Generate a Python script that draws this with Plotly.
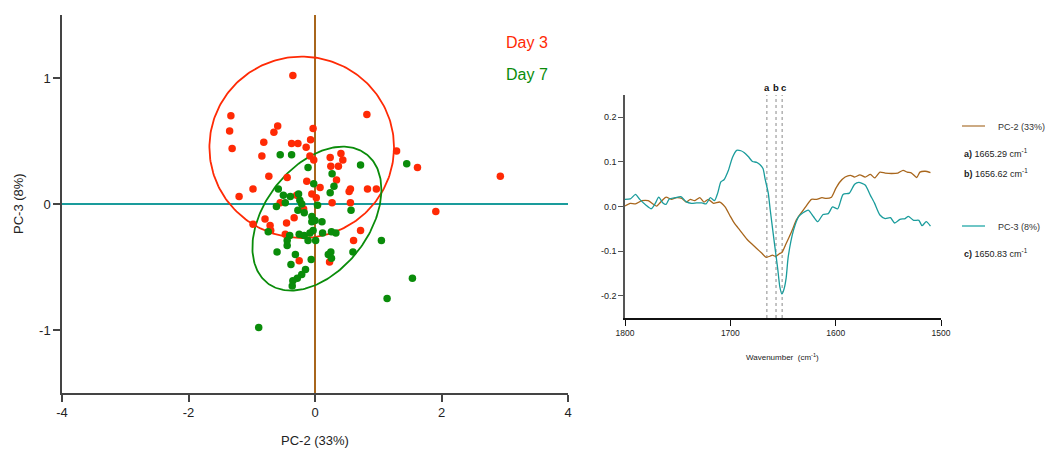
import numpy as np
import plotly.graph_objects as go

W, H = 1046, 452
FONT = "Liberation Sans, Arial, sans-serif"

# ---- PCA scores (PC-2 vs PC-3) ----
day3_pc2 = [-0.35, -1.33, -1.35, -1.31, 0.82, -0.59, -0.65, -0.81, -0.84, -0.37,
            -0.27, -0.14, -0.07, -0.03, -0.08, -0.02, 0.24, 0.41, 0.44, 0.25,
            0.37, 0.34, -0.73, -0.44, -0.98, -1.20, -0.13, 0.08, 0.56, 0.54,
            0.83, 0.97, 1.29, 1.62, -0.05, 0.02, 0.27, 0.56, -0.29, -0.55,
            -0.18, 2.93, 1.91, -0.79, -0.98, -0.71, -0.45, -0.33, -0.70, -0.47,
            0.72, 0.61, -0.25, 0.23]
day3_pc3 = [1.02, 0.70, 0.58, 0.44, 0.71, 0.62, 0.57, 0.49, 0.38, 0.48,
            0.48, 0.45, 0.51, 0.60, 0.38, 0.35, 0.37, 0.40, 0.35, 0.30,
            0.30, 0.19, 0.22, 0.21, 0.12, 0.06, 0.18, 0.13, 0.12, 0.10,
            0.12, 0.12, 0.42, 0.29, 0.08, 0.05, 0.01, 0.01, 0.07, 0.01,
            -0.04, 0.22, -0.06, -0.12, -0.16, -0.17, -0.15, -0.11, -0.21, -0.24,
            -0.21, -0.29, -0.45, -0.46]

day7_pc2 = [-0.55, -0.37, 0.72, 1.45, -0.11, 0.27, -0.02, 0.30, 0.24, -0.58,
            -0.50, -0.39, -0.26, -0.24, -0.47, -0.61, -0.21, 0.04, 0.57, -0.27,
            -0.17, -0.05, -0.05, 0.00, 0.11, -0.74, -0.40, -0.25, -0.17, -0.08,
            -0.03, 0.12, 0.26, 0.33, -0.11, 0.01, 1.05, -0.44, -0.44, -0.60,
            -0.31, -0.38, -0.06, -0.15, -0.21, -0.28, -0.35, -0.36, 0.21, 0.25,
            0.26, 0.60, 1.14, 1.54, -0.89]
day7_pc3 = [0.39, 0.39, 0.31, 0.32, 0.29, 0.24, 0.16, 0.14, 0.09, 0.12,
            0.07, 0.06, 0.08, 0.03, 0.01, -0.02, 0.00, -0.01, -0.05, -0.05,
            -0.07, -0.10, -0.14, -0.13, -0.14, -0.22, -0.25, -0.24, -0.25, -0.23,
            -0.21, -0.23, -0.22, -0.23, -0.29, -0.29, -0.29, -0.29, -0.33, -0.38,
            -0.40, -0.48, -0.44, -0.52, -0.56, -0.59, -0.61, -0.65, -0.40, -0.38,
            -0.43, -0.38, -0.75, -0.59, -0.98]

# confidence ellipses: centre and shape (covariance-like) matrix
day3_ellipse_center = [-0.21, 0.45]
day3_ellipse_shape = [[2.13, 0.0], [0.0, 0.518]]
day7_ellipse_center = [0.03, -0.116]
day7_ellipse_shape = [[1.04, 0.234], [0.234, 0.326]]

score_xticks = [-4, -2, 0, 2, 4]
score_xticklabels = ["-4", "-2", "0", "2", "4"]
score_yticks = [-1, 0, 1]
score_yticklabels = ["-1", "0", "1"]

# ---- loadings spectra ----
wavenumber_pc2 = [1800, 1795, 1790, 1784, 1778, 1773, 1770, 1765, 1761, 1756,
                  1751, 1746, 1742, 1738, 1734, 1729, 1725, 1721, 1716, 1710,
                  1705, 1700, 1696, 1691, 1684, 1680, 1675, 1670, 1666, 1662,
                  1660, 1657, 1653, 1651, 1647, 1642, 1637, 1632, 1628, 1623,
                  1618, 1613, 1609, 1604, 1600, 1596, 1591, 1586, 1582, 1577,
                  1572, 1567, 1563, 1558, 1553, 1547, 1541, 1536, 1532, 1528,
                  1523, 1520, 1515, 1510]
loading_pc2 = [0.001, 0.007, 0.006, 0.013, 0.013, 0.005, 0.001, 0.013, 0.021, 0.016,
               0.020, 0.018, 0.010, 0.016, 0.013, 0.020, 0.010, 0.016, 0.007, 0.010,
               -0.001, -0.022, -0.038, -0.053, -0.074, -0.083, -0.094, -0.105, -0.114, -0.111,
               -0.109, -0.112, -0.105, -0.103, -0.083, -0.057, -0.029, -0.012, 0.001, 0.016,
               0.016, 0.020, 0.018, 0.021, 0.040, 0.055, 0.066, 0.070, 0.066, 0.071,
               0.066, 0.072, 0.064, 0.077, 0.075, 0.074, 0.075, 0.081, 0.077, 0.075,
               0.065, 0.077, 0.079, 0.076]

wavenumber_pc3 = [1800, 1795, 1790, 1786, 1780, 1775, 1771, 1768, 1764, 1761,
                  1758, 1752, 1747, 1742, 1737, 1732, 1727, 1723, 1719, 1715,
                  1712, 1709, 1706, 1702, 1698, 1694, 1690, 1687, 1683, 1679,
                  1675, 1672, 1669, 1667, 1664, 1662, 1658, 1655, 1653, 1651,
                  1649, 1647, 1645, 1640, 1635, 1631, 1626, 1621, 1617, 1612,
                  1607, 1603, 1598, 1593, 1587, 1582, 1578, 1572, 1567, 1563,
                  1558, 1553, 1548, 1544, 1539, 1534, 1531, 1526, 1521, 1518,
                  1514, 1510]
loading_pc3 = [0.016, 0.017, 0.027, 0.016, 0.003, -0.005, 0.008, 0.021, 0.008, 0.005,
               0.017, 0.020, 0.022, 0.011, 0.007, 0.008, 0.008, 0.006, 0.020, 0.013,
               0.030, 0.055, 0.060, 0.080, 0.110, 0.126, 0.125, 0.121, 0.112, 0.101,
               0.099, 0.094, 0.085, 0.062, 0.030, -0.010, -0.085, -0.140, -0.180, -0.196,
               -0.185, -0.160, -0.112, -0.053, -0.022, -0.014, -0.008, -0.023, -0.034, -0.018,
               -0.016, -0.001, -0.005, 0.027, 0.030, 0.050, 0.054, 0.048, 0.025, 0.007,
               -0.019, -0.027, -0.025, -0.037, -0.029, -0.027, -0.022, -0.031, -0.031, -0.043,
               -0.034, -0.044]

band_labels = ["a", "b", "c"]
band_positions = [1665.29, 1656.62, 1650.83]

spec_xticks = [1800, 1700, 1600, 1500]
spec_yticks = [-0.2, -0.1, 0.0, 0.1, 0.2]
spec_yticklabels = ["-0.2", "-0.1", "0.0", "0.1", "0.2"]

RED = "#ff2a05"
GREEN = "#0a8c0a"
BROWN = "#a8661c"
TEAL = "#1a9c9c"


def px(x):
    return x / W


def py(y):
    return 1 - y / H


def ellipse(center, shape, n=240):
    L = np.linalg.cholesky(np.array(shape))
    t = np.linspace(0, 2 * np.pi, n + 1)
    pts = L @ np.vstack([np.cos(t), np.sin(t)])
    return center[0] + pts[0], center[1] + pts[1]


def label(text, x, y, size, color="#222", xanchor="center", **kw):
    return dict(text=text, x=x, y=y, xref=kw.pop("xref", "paper"), yref="paper",
                showarrow=False, xanchor=xanchor, yanchor="middle",
                font=dict(size=size, color=color, family=FONT), **kw)


fig = go.Figure()

ex, ey = ellipse(day3_ellipse_center, day3_ellipse_shape)
fig.add_trace(go.Scatter(x=ex, y=ey, mode="lines", line=dict(color=RED, width=1.8),
                         hoverinfo="skip", xaxis="x", yaxis="y"))
ex, ey = ellipse(day7_ellipse_center, day7_ellipse_shape)
fig.add_trace(go.Scatter(x=ex, y=ey, mode="lines", line=dict(color=GREEN, width=1.8),
                         hoverinfo="skip", xaxis="x", yaxis="y"))

fig.add_trace(go.Scatter(x=day3_pc2, y=day3_pc3, mode="markers", name="Day 3",
                         marker=dict(color=RED, size=7.5, line=dict(width=0)),
                         xaxis="x", yaxis="y"))
fig.add_trace(go.Scatter(x=day7_pc2, y=day7_pc3, mode="markers", name="Day 7",
                         marker=dict(color=GREEN, size=7.5, line=dict(width=0)),
                         xaxis="x", yaxis="y"))

fig.add_trace(go.Scatter(x=wavenumber_pc2, y=loading_pc2, mode="lines", name="PC-2 (33%)",
                         line=dict(color=BROWN, width=1.3, shape="spline", smoothing=0.6),
                         xaxis="x2", yaxis="y2"))
fig.add_trace(go.Scatter(x=wavenumber_pc3, y=loading_pc3, mode="lines", name="PC-3 (8%)",
                         line=dict(color=TEAL, width=1.3, shape="spline", smoothing=0.6),
                         xaxis="x2", yaxis="y2"))

shapes = [
    # zero reference lines of the score plot
    dict(type="line", xref="x", yref="y", x0=-4, x1=4, y0=0, y1=0,
         line=dict(color=TEAL, width=2), layer="below"),
    dict(type="line", xref="x", yref="y", x0=0, x1=0, y0=-1.5, y1=1.5,
         line=dict(color=BROWN, width=2), layer="below"),
]
for pos in band_positions:
    shapes.append(dict(type="line", xref="x2", yref="y2 domain", x0=pos, x1=pos, y0=0, y1=1,
                       line=dict(color="#8a8a8a", width=1, dash="dot"), layer="below"))
# legend swatches
shapes.append(dict(type="line", xref="paper", yref="paper", x0=px(962), x1=px(985),
                   y0=py(126), y1=py(126), line=dict(color="#c09565", width=1.6)))
shapes.append(dict(type="line", xref="paper", yref="paper", x0=px(962), x1=px(985),
                   y0=py(226), y1=py(226), line=dict(color="#4bb8b8", width=1.6)))

annotations = [
    label("Day 3", px(527), py(43), 16, RED),
    label("Day 7", px(527), py(74), 16, GREEN),
    label("PC-2 (33%)", px(315), py(440), 13),
    label("PC-3 (8%)", px(18), py(204), 13, textangle=-90),
    label("Wavenumber  (cm<sup>-1</sup>)", px(782), py(357), 8),
    label("PC-2 (33%)", px(996), py(127), 9, "#333", xanchor="left"),
    label("PC-3 (8%)", px(996), py(227), 9, "#333", xanchor="left"),
]
# band letters above the dotted markers, nudged apart so they read "a b c"
letter_offsets = [0, 0, -1.5]
for lab, pos, off in zip(band_labels, band_positions, letter_offsets):
    annotations.append(label(f"<b>{lab}</b>", pos + off, py(87), 9.5, "#111", xref="x2"))
legend_rows = [153, 173, 253]
for lab, pos, row in zip(band_labels, band_positions, legend_rows):
    annotations.append(label(f"<b>{lab})</b> {pos:.2f} cm<sup>-1</sup>", px(962), py(row), 9,
                             xanchor="left"))

axis_common = dict(showgrid=False, zeroline=False, showline=True, ticks="outside",
                   automargin=False)

fig.update_layout(
    width=W, height=H,
    margin=dict(l=0, r=0, t=0, b=0),
    paper_bgcolor="white", plot_bgcolor="white",
    showlegend=False,
    font=dict(family=FONT, color="#222"),
    xaxis=dict(domain=[px(62), px(568)], range=[-4, 4], tickvals=score_xticks,
               ticktext=score_xticklabels, linecolor="#444", linewidth=1.5, tickcolor="#444",
               tickwidth=1.5, ticklen=7, tickfont=dict(size=13, color="#222"), **axis_common),
    yaxis=dict(domain=[py(393), py(15)], range=[-1.5, 1.5], tickvals=score_yticks,
               ticktext=score_yticklabels, linecolor="#444", linewidth=1.5, tickcolor="#444",
               tickwidth=1.5, ticklen=7, tickfont=dict(size=13, color="#222"), **axis_common),
    xaxis2=dict(domain=[px(625), px(941)], range=[1800, 1500], tickvals=spec_xticks,
                linecolor="#111", linewidth=1.5, tickcolor="#111", tickwidth=1.2, ticklen=6,
                tickfont=dict(size=8.5, color="#222"), anchor="y2", **axis_common),
    yaxis2=dict(domain=[py(318), py(95)], range=[-0.25, 0.25], tickvals=spec_yticks,
                ticktext=spec_yticklabels, linecolor="#555", linewidth=1.5, tickcolor="#555",
                tickwidth=1.2, ticklen=5, tickfont=dict(size=9, color="#222"), anchor="x2",
                **axis_common),
    shapes=shapes,
    annotations=annotations,
)

fig.write_html("out.html")
